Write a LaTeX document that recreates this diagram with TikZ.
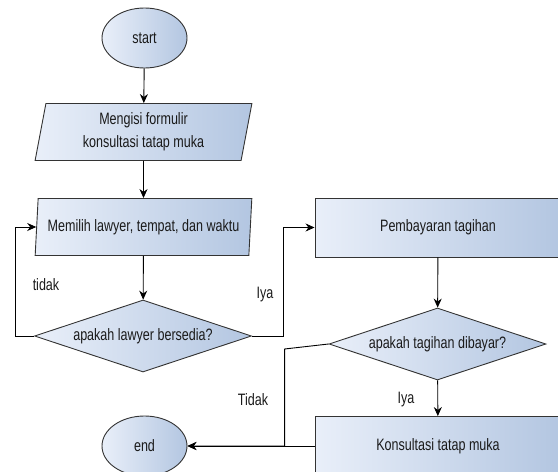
\documentclass[tikz,border=0pt]{standalone}
\usepackage{fontspec}
\setmainfont[FakeStretch=0.76]{Liberation Sans}
\usepackage{tikz}
\usetikzlibrary{shapes.geometric,arrows.meta}

\definecolor{fillL}{HTML}{E9EFF9}
\definecolor{fillR}{HTML}{B3C6E1}
\definecolor{edge}{HTML}{333333}
\definecolor{ink}{HTML}{1A1A1A}

\begin{document}
\begin{tikzpicture}[
    x=1pt, y=-1pt,
    font=\fontsize{16.5}{22.7}\selectfont, text=ink,
    base/.style={draw=edge, line width=0.9pt, left color=fillL, right color=fillR, align=center, inner sep=0pt},
    terminal/.style={base, ellipse, minimum width=85pt, minimum height=60pt},
    inout/.style={base, trapezium, trapezium left angle=80, trapezium right angle=100, trapezium stretches=true, minimum width=217pt, minimum height=57pt},
    process/.style={base, rectangle, minimum width=246pt, minimum height=59pt},
    decision/.style={base, diamond, aspect=3, minimum width=217pt, minimum height=72pt},
    label/.style={inner sep=0pt},
    line/.style={draw=black, line width=0.9pt},
    arrow/.style={line, -{Stealth[length=9pt,width=8pt]}}
]
\useasboundingbox (0,0) rectangle (558,472);

% Start
\node[terminal] (start) at (144.5,38) {start};

% Input nodes
\node[inout] (form) at (143.5,132) {Mengisi formulir\\konsultasi tatap muka};
\node[inout] (pilih) at (143.5,227) {Memilih lawyer, tempat, dan waktu};

% Decisions
\node[decision] (sedia) at (143,336) {apakah lawyer bersedia?};
\node[decision] (bayar) at (437.5,344) {apakah tagihan dibayar?};

% Processes
\node[process] (tagihan) at (438,227.5) {Pembayaran tagihan};
\node[process] (konsul) at (438,446) {Konsultasi tatap muka};

% End
\node[terminal] (end) at (144.5,446) {end};

% Labels
\node[label] (tidak1) at (46,285) {tidak};
\node[label] (iya1) at (265,295) {Iya};
\node[label] (iya2) at (406,400) {Iya};
\node[label] (tidak2) at (253,400) {Tidak};

% Connectors
\draw[arrow] (start) -- (form);
\draw[arrow] (form) -- (pilih);
\draw[arrow] (pilih) -- (sedia);
\draw[arrow] (sedia.west) -- ++(-19,0) |- (pilih.west);
\draw[arrow] (sedia.east) -- ++(31,0) |- (tagihan.west);
\draw[arrow] (tagihan) -- (bayar);
\draw[arrow] (bayar) -- (konsul);
\draw[arrow] (konsul.west) -- (end.east);
\draw[arrow] (bayar.west) -- ++(-44,5) |- (end.east);

\end{tikzpicture}
\end{document}
